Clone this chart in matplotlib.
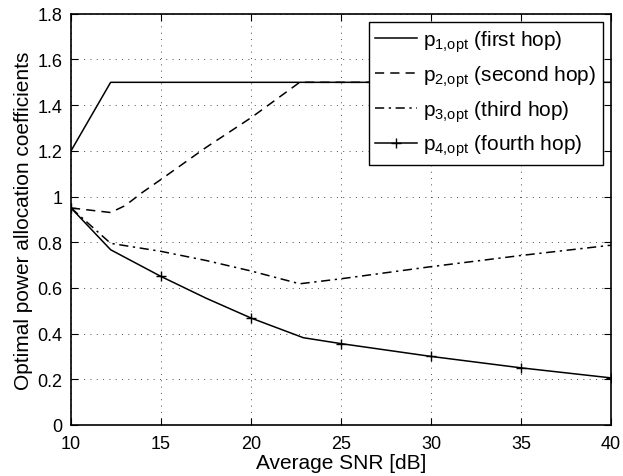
import numpy as np
import matplotlib.pyplot as plt

plt.rcParams['font.family'] = ['Liberation Sans', 'DejaVu Sans']
plt.rcParams['mathtext.default'] = 'regular'

# data
snr_p1 = [10, 12.2, 40]
p1 = [1.2, 1.5, 1.5]

snr_p2 = [10, 12.2, 13.0, 14.0, 15, 17.5, 20, 22.7, 40]
p2 = [0.95, 0.93, 0.96, 1.02, 1.075, 1.215, 1.345, 1.5, 1.5]

snr_p3 = [10, 12.2, 15, 17.5, 20, 22.7, 25, 30, 35, 40]
p3 = [0.95, 0.795, 0.76, 0.72, 0.674, 0.618, 0.64, 0.693, 0.742, 0.787]

snr_p4 = [10, 12.2, 15, 17.5, 20, 22.9, 25, 30, 35, 40]
p4 = [0.95, 0.767, 0.65, 0.555, 0.468, 0.382, 0.356, 0.300, 0.250, 0.206]
p4_marks = [0, 2, 4, 6, 7, 8, 9]

labels = [r'$p_{1{,}opt}$ (first hop)', r'$p_{2{,}opt}$ (second hop)',
          r'$p_{3{,}opt}$ (third hop)', r'$p_{4{,}opt}$ (fourth hop)']

fig = plt.figure(figsize=(6.23, 4.77), dpi=100)
ax = fig.add_axes([0.114, 0.107, 0.867, 0.862])

ax.plot(snr_p1, p1, 'k-', lw=1.1, label=labels[0])
ax.plot(snr_p2, p2, 'k--', lw=1.1, dashes=(6, 4), label=labels[1])
ax.plot(snr_p3, p3, 'k-.', lw=1.1, dashes=(6, 3, 1.5, 3), label=labels[2])
ax.plot(snr_p4, p4, 'k-', lw=1.1, marker='+', markersize=7, markeredgewidth=1.0,
        markevery=p4_marks, label=labels[3])

ax.set_xlim(10, 40)
ax.set_ylim(0, 1.8)
ax.set_xticks(np.arange(10, 41, 5))
ax.set_yticks(np.arange(0, 1.81, 0.2))
ax.set_yticklabels(['0', '0.2', '0.4', '0.6', '0.8', '1', '1.2', '1.4', '1.6', '1.8'])
ax.grid(True, color='k', linestyle=(0, (1, 5.5)), linewidth=0.7, alpha=0.7)
ax.tick_params(direction='in', top=True, right=True, labelsize=13, length=5, width=0.8)
ax.tick_params(axis='x', pad=7)
ax.tick_params(axis='y', pad=6)
for s in ax.spines.values():
    s.set_linewidth(1.2)

ax.set_xlabel('Average SNR [dB]', fontsize=15, labelpad=1)
ax.set_ylabel('Optimal power allocation coefficients', fontsize=15, labelpad=3)

leg = ax.legend(loc='upper right', fontsize=15, fancybox=False, framealpha=1,
                edgecolor='k', borderaxespad=0.4, handlelength=2.0,
                handletextpad=0.3, labelspacing=0.45, borderpad=0.3)
leg.get_frame().set_linewidth(1.0)

fig.savefig('out.png', dpi=100)
